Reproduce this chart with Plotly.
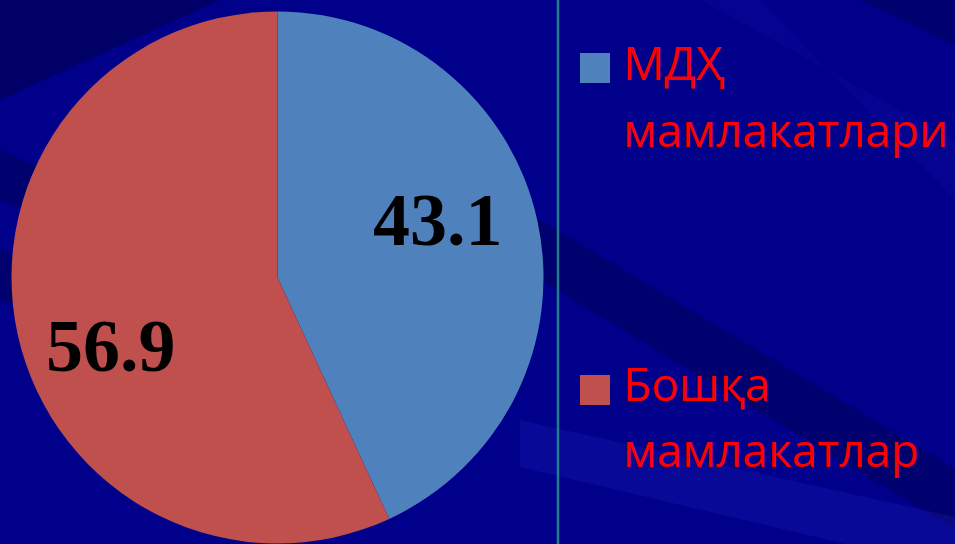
import plotly.graph_objects as go

# ---- data ----
labels = ["МДҲ мамлакатлари", "Бошқа мамлакатлар"]
legend_lines = [["МДҲ", "мамлакатлари"], ["Бошқа", "мамлакатлар"]]
values = [43.1, 56.9]
colors = ["#4F81BD", "#C0504D"]

W, H = 955, 544

fig = go.Figure()
fig.add_trace(go.Pie(
    labels=labels,
    values=values,
    textinfo="none",
    marker=dict(colors=colors, line=dict(width=0)),
    sort=False,
    direction="clockwise",
    rotation=0,
    showlegend=False,
    hoverinfo="label+value",
    domain=dict(x=[11.5 / W, 543.5 / W], y=[0.5 / H, 532.5 / H]),
))

def px(x):
    return x / W

def py(y):
    return 1 - y / H

shapes = []
# background streaks
def band(pts, color):
    d = "M " + " L ".join(f"{px(x)},{py(y)}" for x, y in pts) + " Z"
    shapes.append(dict(type="path", path=d, xref="paper", yref="paper",
                       fillcolor=color, line=dict(width=0), layer="below"))

band([(0, 0), (220, 0), (0, 100)], "rgba(0,0,60,0.45)")
band([(0, 150), (0, 200), (300, 330), (300, 280)], "rgba(0,0,60,0.35)")
band([(0, 250), (0, 300), (200, 370), (200, 320)], "rgba(0,0,60,0.35)")
band([(500, 196), (955, 469), (955, 529), (500, 256)], "rgba(0,0,60,0.35)")
band([(520, 420), (955, 517), (955, 570), (520, 467)], "rgba(40,40,200,0.22)")
band([(700, 0), (760, 0), (955, 200), (955, 140)], "rgba(30,30,190,0.15)")
band([(860, 0), (955, 0), (955, 45)], "rgba(0,0,60,0.35)")

# divider line
shapes.append(dict(type="line", xref="paper", yref="paper",
                   x0=px(558), x1=px(558), y0=0, y1=1,
                   line=dict(color="#1E7F8C", width=2.5)))

# legend squares
sq_tops = [53, 375]
for c, t in zip(colors, sq_tops):
    shapes.append(dict(type="rect", xref="paper", yref="paper",
                       x0=px(580), x1=px(610), y0=py(t + 30), y1=py(t),
                       fillcolor=c, line=dict(width=0)))

annotations = []
# data labels (text from values)
label_pos = [(438, 220), (111, 346)]
for v, (x, y) in zip(values, label_pos):
    annotations.append(dict(
        text=f"{v:.1f}", xref="paper", yref="paper",
        x=px(x), y=py(y), xanchor="center", yanchor="middle", showarrow=False,
        font=dict(family="Liberation Serif", size=74, color="black", weight="bold"),
    ))

baselines = [[83, 150], [404, 470]]
fs = 46
for lines, bls in zip(legend_lines, baselines):
    for txt, bl in zip(lines, bls):
        annotations.append(dict(
            text=txt, xref="paper", yref="paper",
            x=px(621), y=py(bl + 0.27 * fs), xanchor="left", yanchor="bottom",
            showarrow=False,
            font=dict(family="Open Sans", size=fs, color="#FF0000"),
        ))

fig.update_layout(
    width=W, height=H,
    margin=dict(l=0, r=0, t=0, b=0),
    paper_bgcolor="#00008A",
    plot_bgcolor="#00008A",
    shapes=shapes,
    annotations=annotations,
)

fig.write_html("out.html", config={"displayModeBar": False},
               post_script="document.body.style.margin='0';document.body.style.overflow='hidden';")
